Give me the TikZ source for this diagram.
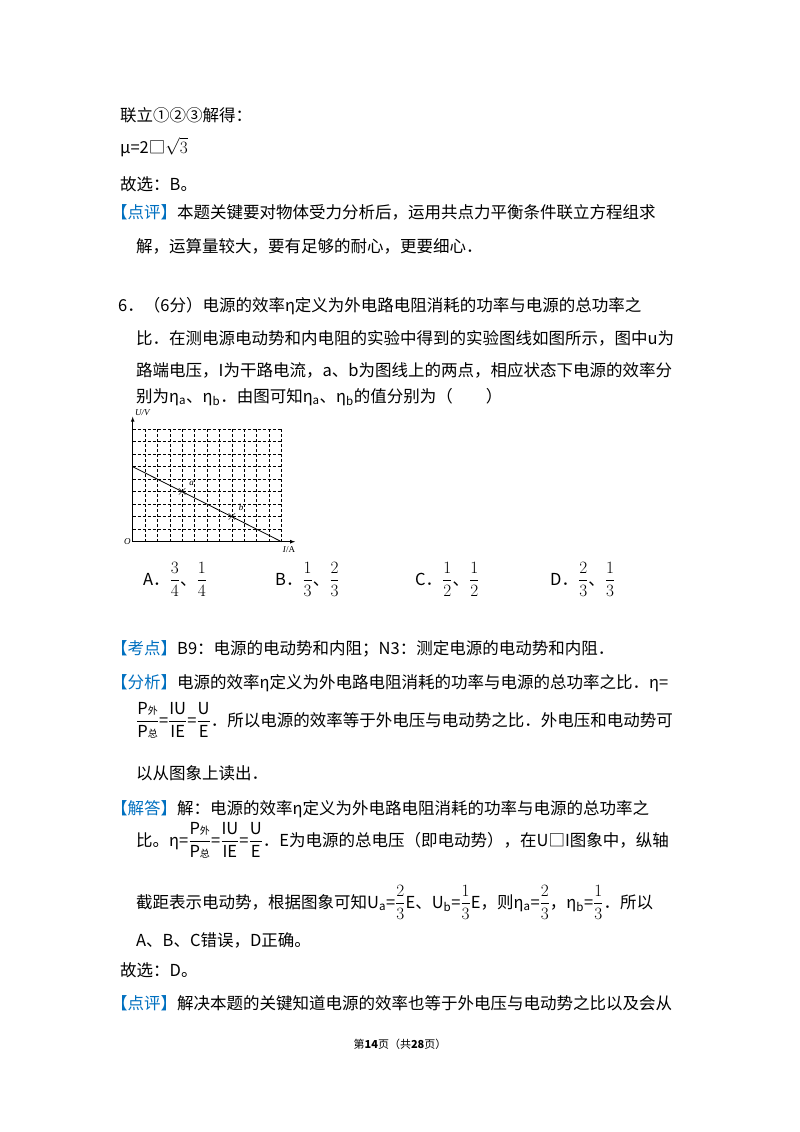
\documentclass[tikz,border=0pt]{standalone}
\usepackage{fontspec}
\setmainfont{Noto Sans CJK SC}
\newfontfamily\serifl{Liberation Serif}
\definecolor{hb}{RGB}{0,112,192}
\newcommand{\fsz}{\fontsize{16.5}{20}\selectfont}
\newcommand{\hd}[1]{\textcolor{hb}{【#1】}}
\newcommand{\smw}[1]{\mbox{\fontsize{10}{12}\selectfont #1}}
\newcommand{\fr}[2]{{\displaystyle\frac{#1}{#2}}}
\begin{document}
\begin{tikzpicture}[x=1pt,y=-1pt,
  txt/.style={anchor=base west,inner sep=0pt,font=\fsz},
  gridl/.style={dashed,line width=0.6pt,dash pattern=on 3pt off 2pt},
  ax/.style={line width=0.7pt,-latex}]
\useasboundingbox[fill=white] (0,0) rectangle (800,1132);
\node[txt] (l1) at (120,121) {联立①②③解得：};
\node[txt] (l2) at (120,153) {μ=2□$\sqrt{3}$};
\node[txt] (l3) at (120,190) {故选：B。};
\node[txt] (l4) at (111,218) {\hd{点评}本题关键要对物体受力分析后，运用共点力平衡条件联立方程组求};
\node[txt] (l5) at (136,252) {解，运算量较大，要有足够的耐心，更要细心．};
\node[txt] (q1) at (118,311) {6．（6分）电源的效率η定义为外电路电阻消耗的功率与电源的总功率之};
\node[txt] (q2) at (136,344) {比．在测电源电动势和内电阻的实验中得到的实验图线如图所示，图中u为};
\node[txt] (q3) at (136,376) {路端电压，I为干路电流，a、b为图线上的两点，相应状态下电源的效率分};
\node[txt] (q4) at (136,402) {别为η$_{\rm a}$、η$_{\rm b}$．由图可知η$_{\rm a}$、η$_{\rm b}$的值分别为（　　）};
% graph
\begin{scope}[shift={(132.7,541.7)},x=12.4pt,y=12.5pt]
\foreach \i in {1,...,12} \draw[gridl] (\i,0) -- (\i,9);
\foreach \j in {1,...,9} \draw[gridl] (0,\j) -- (12,\j);
\coordinate (o) at (0,0);
\coordinate (xe) at (13.1,0);
\coordinate (ye) at (0,10);
\draw[ax] (o) -- (xe);
\draw[ax] (o) -- (ye);
\coordinate (s) at (0,6);
\coordinate (e) at (12,0);
\draw[line width=0.8pt] (s) -- (e);
\node[inner sep=0pt] (pa) at (4,4) {\Large$\times$};
\node[inner sep=0pt] (pb) at (8,2) {\Large$\times$};
\node[anchor=south west,inner sep=1pt,font=\serifl\itshape\small] at (pa.north east) {a};
\node[anchor=south west,inner sep=1pt,font=\serifl\itshape\small] at (pb.north east) {b};
\node[anchor=west,inner sep=1pt,font=\serifl\itshape\small] at (0.1,10.3) {U/V};
\node[anchor=east,inner sep=2pt,font=\serifl\itshape\small] at (o) {O};
\node[anchor=north,inner sep=2pt,font=\serifl\small] at (12.6,-0.2) {\textit{I}/A};
\end{scope}
% choices
\node[txt] (ca) at (143,585) {A．$\fr{3}{4}$、$\fr{1}{4}$};
\node[txt] (cb) at (275,585) {B．$\fr{1}{3}$、$\fr{2}{3}$};
\node[txt] (cc) at (415,585) {C．$\fr{1}{2}$、$\fr{1}{2}$};
\node[txt] (cd) at (550,585) {D．$\fr{2}{3}$、$\fr{1}{3}$};
\node[txt] (k1) at (111,654) {\hd{考点}B9：电源的电动势和内阻；N3：测定电源的电动势和内阻．};
\node[txt] (f1) at (111,688) {\hd{分析}电源的效率η定义为外电路电阻消耗的功率与电源的总功率之比．η=};
\node[txt] (f2) at (136,726) {$\fr{\mathrm{P}\smw{外}}{\mathrm{P}\smw{总}}$=$\fr{\mathrm{IU}}{\mathrm{IE}}$=$\fr{\mathrm{U}}{\mathrm{E}}$．所以电源的效率等于外电压与电动势之比．外电压和电动势可};
\node[txt] (f3) at (136,779) {以从图象上读出．};
\node[txt] (j1) at (111,814) {\hd{解答}解：电源的效率η定义为外电路电阻消耗的功率与电源的总功率之};
\node[txt] (j2) at (136,846) {比。η=$\fr{\mathrm{P}\smw{外}}{\mathrm{P}\smw{总}}$=$\fr{\mathrm{IU}}{\mathrm{IE}}$=$\fr{\mathrm{U}}{\mathrm{E}}$．E为电源的总电压（即电动势），在U□I图象中，纵轴};
\node[txt] (j3) at (136,908) {截距表示电动势，根据图象可知U$_{\rm a}$=$\fr{2}{3}$E、U$_{\rm b}$=$\fr{1}{3}$E，则η$_{\rm a}$=$\fr{2}{3}$，η$_{\rm b}$=$\fr{1}{3}$．所以};
\node[txt] (j4) at (136,946) {A、B、C错误，D正确。};
\node[txt] (j5) at (120,976) {故选：D。};
\node[txt] (p1) at (111,1009) {\hd{点评}解决本题的关键知道电源的效率也等于外电压与电动势之比以及会从};
\node[anchor=base,inner sep=0pt,font=\fontsize{11}{13}\selectfont] (ft) at (400,1048) {第\textbf{14}页（共\textbf{28}页）};
\end{tikzpicture}
\end{document}
